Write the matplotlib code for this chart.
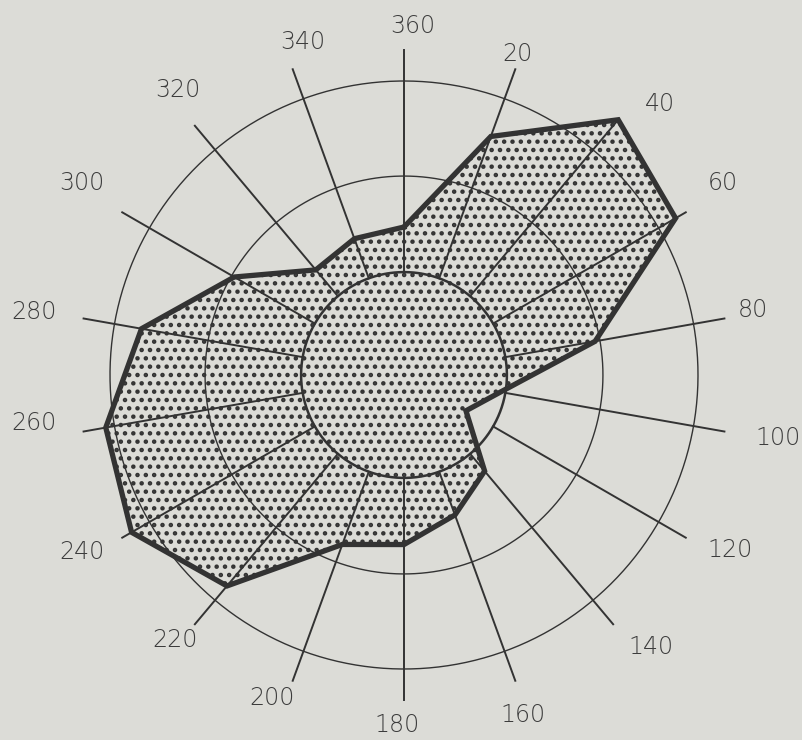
import numpy as np
import matplotlib
matplotlib.use('Agg')
import matplotlib.pyplot as plt

## directions (degrees, clockwise from north) and polygon radius per direction
directions = [360, 20, 40, 60, 80, 100, 120, 140, 160, 180,
              200, 220, 240, 260, 280, 300, 320, 340]
values = [1.51, 2.59, 3.40, 3.20, 1.98, 1.00, 0.73, 1.28, 1.52, 1.73,
          1.84, 2.81, 3.21, 3.09, 2.72, 2.00, 1.40, 1.48]
labels = [str(d) for d in directions]

## layout: ring radii, spoke extent, label placement
rings = [2.03, 3.0]
inner = 1.05
spoke_end = 3.32
label_r = [3.56, 3.47, 3.80, 3.80, 3.62, 3.87, 3.78, 3.75, 3.68, 3.57,
           3.56, 3.57, 3.75, 3.81, 3.83, 3.83, 3.71, 3.55]
label_dtheta = [1.5, -0.6, 3.4, -1.1, -0.6, -0.4, -1.8, -2.2, 0.7, 1.1,
                2.2, 0.8, 1.2, 2.6, -0.3, 0.8, 1.6, 3.1]

bg = '#dcdcd7'
ink = '#333333'
plt.rcParams['hatch.color'] = ink
plt.rcParams['hatch.linewidth'] = 2.0

fig = plt.figure(figsize=(8.03, 7.40), dpi=100, facecolor=bg)
R = 3.6
px = 98.0
cx, cy = 404, 740 - 375
ax = fig.add_axes([(cx - R * px) / 803, (cy - R * px) / 740, 2 * R * px / 803, 2 * R * px / 740],
                  projection='polar')
ax.set_theta_zero_location('N')
ax.set_theta_direction(-1)
ax.set_ylim(0, R)
ax.axis('off')

theta = np.deg2rad(directions)
th_closed = np.append(theta, theta[0])
v_closed = np.append(values, values[0])

## dotted fill of the rose polygon
ax.fill(th_closed, v_closed, facecolor=bg, edgecolor=ink, hatch='..', linewidth=0, zorder=1)

## circles
circ = np.linspace(0, 2 * np.pi, 400)
for r in rings:
    ax.plot(circ, np.full_like(circ, r), color=ink, lw=1.0, zorder=2)
ax.plot(circ, np.full_like(circ, inner), color=ink, lw=1.8, zorder=2)

## spokes from the inner circle outwards
for t, v in zip(theta, values):
    ax.plot([t, t], [inner, max(spoke_end, v)], color=ink, lw=1.4, zorder=3)

## polygon outline
ax.plot(th_closed, v_closed, color=ink, lw=3.8, solid_joinstyle='miter', zorder=4)

## direction labels
for t, lab, lr, dt in zip(theta, labels, label_r, label_dtheta):
    ax.text(t + np.deg2rad(dt), lr, lab, ha='center', va='center',
            fontsize=17, color='#3c3c3c', family='DejaVu Sans', fontweight='light')

plt.savefig('out.png', dpi=100, facecolor=bg)
